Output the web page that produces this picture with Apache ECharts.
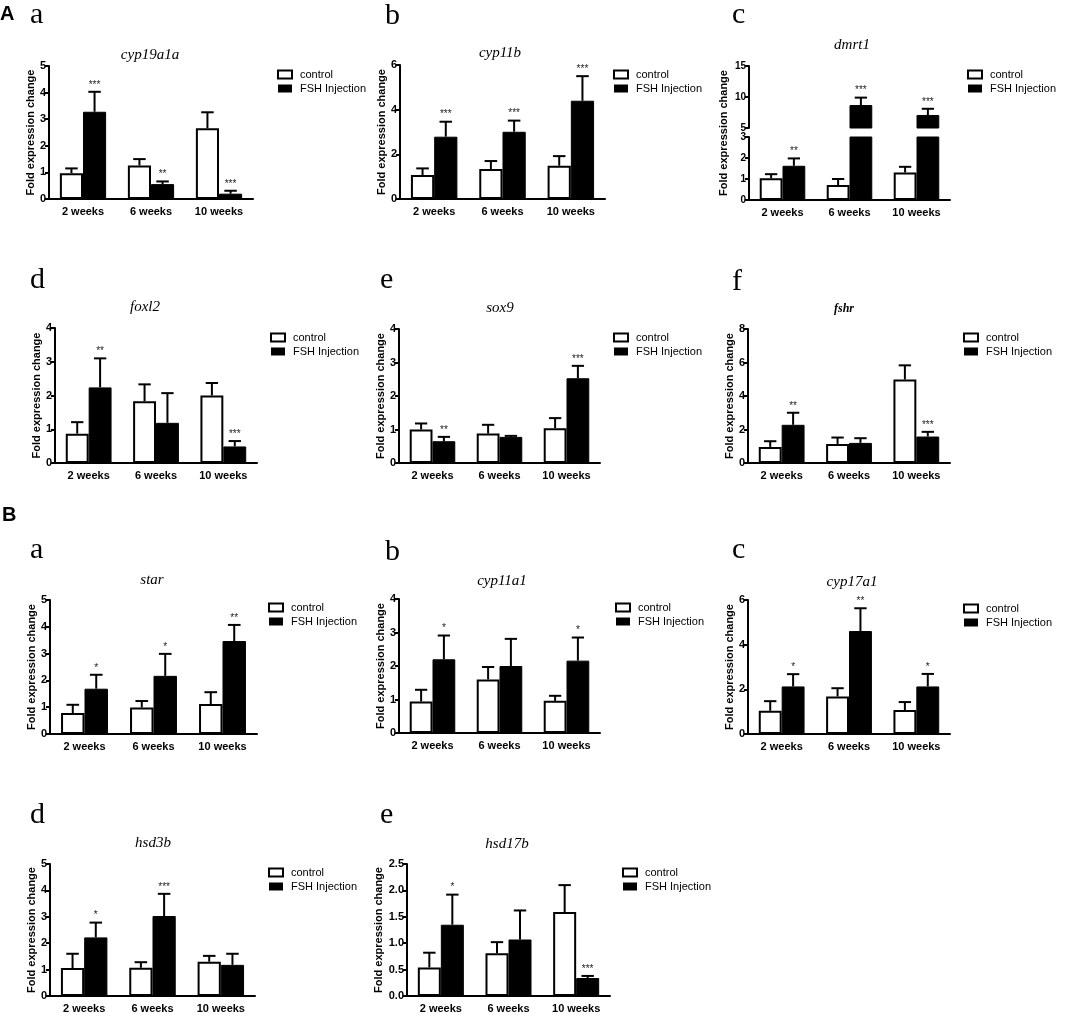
<!DOCTYPE html>
<html>
<head>
<meta charset="UTF-8">
<title>FSH injection qPCR</title>
<script src="https://cdn.jsdelivr.net/npm/echarts@6/dist/echarts.min.js"></script>
<style>
  html, body { margin: 0; padding: 0; background: #fff; }
  #main { width: 1080px; height: 1014px; }
</style>
</head>
<body>
<div id="main"></div>
<script type="text/javascript">
// categories
var weeks = ['2 weeks', '6 weeks', '10 weeks'];
var seriesNames = ['control', 'FSH Injection'];

// mean / error bar (upper SD) per gene
var cyp19a1a = { control: [0.97, 1.26, 2.66], controlSd: [0.18, 0.24, 0.60], fsh: [3.28, 0.56, 0.20], fshSd: [0.75, 0.10, 0.11], stars: ['***', '**', '***'] };
var cyp11b   = { control: [1.07, 1.34, 1.49], controlSd: [0.30, 0.36, 0.43], fsh: [2.79, 3.01, 4.40], fshSd: [0.67, 0.50, 1.10], stars: ['***', '***', '***'] };
var dmrt1    = { control: [1.04, 0.71, 1.31], controlSd: [0.19, 0.29, 0.27], fsh: [1.63, 8.70, 7.10], fshSd: [0.35, 1.20, 1.00], stars: ['**', '***', '***'] };
var foxl2    = { control: [0.87, 1.83, 2.00], controlSd: [0.34, 0.50, 0.37], fsh: [2.24, 1.19, 0.49], fshSd: [0.86, 0.88, 0.16], stars: ['**', '', '***'] };
var sox9     = { control: [1.00, 0.88, 1.04], controlSd: [0.18, 0.26, 0.30], fsh: [0.65, 0.78, 2.53], fshSd: [0.13, 0.03, 0.37], stars: ['**', '', '***'] };
var fshr     = { control: [0.96, 1.14, 4.99], controlSd: [0.34, 0.38, 0.84], fsh: [2.28, 1.20, 1.58], fshSd: [0.72, 0.28, 0.28], stars: ['**', '', '***'] };
var star     = { control: [0.78, 0.99, 1.12], controlSd: [0.31, 0.24, 0.44], fsh: [1.69, 2.17, 3.47], fshSd: [0.52, 0.82, 0.60], stars: ['*', '*', '**'] };
var cyp11a1  = { control: [0.94, 1.60, 0.96], controlSd: [0.35, 0.37, 0.15], fsh: [2.20, 2.00, 2.16], fshSd: [0.71, 0.81, 0.69], stars: ['*', '', '*'] };
var cyp17a1  = { control: [1.04, 1.68, 1.07], controlSd: [0.43, 0.37, 0.36], fsh: [2.13, 4.61, 2.13], fshSd: [0.55, 1.02, 0.56], stars: ['*', '**', '*'] };
var hsd3b    = { control: [1.06, 1.07, 1.30], controlSd: [0.54, 0.21, 0.22], fsh: [2.22, 3.03, 1.18], fshSd: [0.56, 0.84, 0.42], stars: ['*', '***', ''] };
var hsd17b   = { control: [0.54, 0.81, 1.59], controlSd: [0.28, 0.21, 0.51], fsh: [1.35, 1.07, 0.34], fshSd: [0.57, 0.55, 0.04], stars: ['*', '', '***'] };

// y axis ranges of the broken dmrt1 axis [min, max, interval]
var dmrt1Lower = [0, 3, 1];
var dmrt1Upper = [5, 15, 5];

var SANS = '"Liberation Sans", Arial, sans-serif';
var SERIF = '"Liberation Serif", "Times New Roman", serif';
var BAR_FRAC = 0.34;

// layout of each panel (px)
var panels = [
  { gene: 'cyp19a1a', d: cyp19a1a, letter: 'a', lx: 30, ly: 23, tx: 150, ty: 55, grid: [49, 66, 204, 133], max: 5, interval: 1, lg: [277, 69] },
  { gene: 'cyp11b', d: cyp11b, letter: 'b', lx: 385, ly: 24, tx: 500, ty: 53, grid: [400, 65, 205, 134], max: 6, interval: 2, lg: [613, 69] },
  { gene: 'dmrt1', d: dmrt1, letter: 'c', lx: 732, ly: 23, tx: 852, ty: 45, grid: [749, 66, 201, 134], broken: true, lg: [967, 69] },
  { gene: 'foxl2', d: foxl2, letter: 'd', lx: 30, ly: 288, tx: 145, ty: 307, grid: [55, 328, 202, 135], max: 4, interval: 1, lg: [270, 332] },
  { gene: 'sox9', d: sox9, letter: 'e', lx: 380, ly: 288, tx: 500, ty: 308, grid: [399, 329, 201, 134], max: 4, interval: 1, lg: [613, 332] },
  { gene: 'fshr', d: fshr, letter: 'f', lx: 732, ly: 290, tx: 844, ty: 307, grid: [748, 329, 202, 134], max: 8, interval: 2, lg: [963, 332], small: true },
  { gene: 'star', d: star, letter: 'a', lx: 30, ly: 558, tx: 152, ty: 580, grid: [50, 600, 207, 134], max: 5, interval: 1, lg: [268, 602] },
  { gene: 'cyp11a1', d: cyp11a1, letter: 'b', lx: 385, ly: 560, tx: 502, ty: 581, grid: [399, 599, 201, 134], max: 4, interval: 1, lg: [615, 602] },
  { gene: 'cyp17a1', d: cyp17a1, letter: 'c', lx: 732, ly: 558, tx: 852, ty: 582, grid: [748, 600, 202, 134], max: 6, interval: 2, lg: [963, 603] },
  { gene: 'hsd3b', d: hsd3b, letter: 'd', lx: 30, ly: 823, tx: 153, ty: 843, grid: [50, 864, 205, 134], max: 5, interval: 1, lg: [268, 867] },
  { gene: 'hsd17b', d: hsd17b, letter: 'e', lx: 380, ly: 823, tx: 507, ty: 844, grid: [407, 864, 203, 134], max: 2.5, interval: 0.5, lg: [622, 867], decimals: 1 }
];

var myChart = echarts.init(document.getElementById('main'));

var option = {
  animation: false,
  backgroundColor: '#fff',
  grid: [],
  xAxis: [],
  yAxis: [],
  legend: [],
  series: [],
  graphic: []
};

var axisLineStyle = { color: '#000', width: 2 };
var tickLabel = { color: '#000', fontWeight: 'bold', fontSize: 11, fontFamily: SANS };

function addGrid(left, top, width, height) {
  option.grid.push({ left: left, top: top, width: width, height: height });
  return option.grid.length - 1;
}

function addXAxis(gi, show) {
  option.xAxis.push({
    type: 'category',
    gridIndex: gi,
    data: weeks,
    show: show,
    axisLine: { lineStyle: axisLineStyle },
    axisTick: { show: false },
    axisLabel: Object.assign({ margin: 7, interval: 0 }, tickLabel)
  });
}

function addYAxis(gi, min, max, interval, decimals, name, labelSize) {
  option.yAxis.push({
    type: 'value',
    gridIndex: gi,
    min: min,
    max: max,
    interval: interval,
    name: name || '',
    nameLocation: 'middle',
    nameGap: 11,
    nameTextStyle: { color: '#000', fontWeight: 'bold', fontSize: 11, fontFamily: SANS },
    axisLine: { show: true, lineStyle: axisLineStyle },
    axisTick: { show: true, length: 4, lineStyle: axisLineStyle },
    axisLabel: Object.assign({}, tickLabel, {
      margin: 3,
      fontSize: labelSize || 11,
      formatter: function (v) { return decimals ? v.toFixed(decimals) : String(v); }
    }),
    splitLine: { show: false }
  });
}

function barSeries(gi, name, data) {
  var ctrl = name === 'control';
  return {
    type: 'bar',
    name: name,
    xAxisIndex: gi,
    yAxisIndex: gi,
    data: data,
    clip: true,
    barWidth: (BAR_FRAC * 100) + '%',
    barGap: '0%',
    itemStyle: ctrl ? { color: '#fff', borderColor: '#000', borderWidth: 2 } : { color: '#000', borderColor: '#000', borderWidth: 1 }
  };
}

// error bar (upwards) + significance stars
function errorSeries(gi, means, sds, stars, side, idxs) {
  var data = idxs.map(function (i) { return [i, means[i], sds[i]]; });
  return {
    type: 'custom',
    xAxisIndex: gi,
    yAxisIndex: gi,
    silent: true,
    z: 5,
    data: data,
    renderItem: function (params, api) {
      var i = api.value(0);
      var m = api.value(1);
      var band = api.size([1, 0])[0];
      var p0 = api.coord([i, m]);
      var p1 = api.coord([i, m + api.value(2)]);
      var x = p0[0] + side * band * BAR_FRAC / 2;
      var cap = band * BAR_FRAC * 0.27;
      var kids = [
        { type: 'line', shape: { x1: x, y1: p0[1], x2: x, y2: p1[1] }, style: { stroke: '#000', lineWidth: 2 } },
        { type: 'line', shape: { x1: x - cap, y1: p1[1], x2: x + cap, y2: p1[1] }, style: { stroke: '#000', lineWidth: 2 } }
      ];
      if (stars[i]) {
        kids.push({ type: 'text', x: x, y: p1[1] - 2, style: { text: stars[i], font: '10px ' + SANS, fill: '#222', textAlign: 'center', textVerticalAlign: 'bottom' } });
      }
      return { type: 'group', children: kids };
    }
  };
}

function addLegend(pos) {
  option.legend.push({
    left: pos[0],
    top: pos[1],
    orient: 'vertical',
    padding: 0,
    icon: 'rect',
    itemWidth: 14,
    itemHeight: 8,
    itemGap: 3,
    selectedMode: false,
    data: [
      { name: seriesNames[0], itemStyle: { color: '#fff', borderColor: '#000', borderWidth: 2 } },
      { name: seriesNames[1], itemStyle: { color: '#000', borderColor: '#000', borderWidth: 0 } }
    ],
    textStyle: { color: '#000', fontSize: 11, fontFamily: SANS, padding: [0, 0, 0, 3] }
  });
}

function addText(x, y, text, font, align) {
  option.graphic.push({
    type: 'text', x: x, y: y, silent: true,
    style: { text: text, font: font, fill: '#000', textAlign: align || 'left', textVerticalAlign: 'bottom' }
  });
}

panels.forEach(function (p) {
  var g = p.grid, d = p.d, gi;
  if (!p.broken) {
    gi = addGrid(g[0], g[1], g[2], g[3]);
    addXAxis(gi, true);
    addYAxis(gi, 0, p.max, p.interval, p.decimals, 'Fold expression change');
    option.series.push(barSeries(gi, seriesNames[0], d.control));
    option.series.push(barSeries(gi, seriesNames[1], d.fsh));
    option.series.push(errorSeries(gi, d.control, d.controlSd, [], -1, [0, 1, 2]));
    option.series.push(errorSeries(gi, d.fsh, d.fshSd, d.stars, 1, [0, 1, 2]));
  } else {
    // lower segment 0-3
    gi = addGrid(g[0], 137, g[2], g[1] + g[3] - 137);
    addXAxis(gi, true);
    addYAxis(gi, dmrt1Lower[0], dmrt1Lower[1], dmrt1Lower[2], 0, '', 10);
    option.series.push(barSeries(gi, seriesNames[0], d.control));
    option.series.push(barSeries(gi, seriesNames[1], d.fsh));
    option.series.push(errorSeries(gi, d.control, d.controlSd, [], -1, [0, 1, 2]));
    option.series.push(errorSeries(gi, d.fsh, d.fshSd, d.stars, 1, [0]));
    // upper segment 5-15
    var gu = addGrid(g[0], g[1], g[2], 62);
    addXAxis(gu, false);
    addYAxis(gu, dmrt1Upper[0], dmrt1Upper[1], dmrt1Upper[2], 0, '', 10);
    option.series.push(barSeries(gu, seriesNames[0], ['-', '-', '-']));
    option.series.push(barSeries(gu, seriesNames[1], ['-', d.fsh[1], d.fsh[2]]));
    option.series.push(errorSeries(gu, d.fsh, d.fshSd, d.stars, 1, [1, 2]));
    // shared axis title
    var gn = addGrid(g[0], g[1], g[2], g[3]);
    addXAxis(gn, false);
    option.yAxis.push({
      type: 'value', gridIndex: gn, min: 0, max: 1,
      name: 'Fold expression change', nameLocation: 'middle', nameGap: 20,
      nameTextStyle: { color: '#000', fontWeight: 'bold', fontSize: 11, fontFamily: SANS },
      axisLine: { show: false }, axisTick: { show: false }, axisLabel: { show: false }, splitLine: { show: false }
    });
  }
  addLegend(p.lg);
  addText(p.tx, p.ty + 8, p.gene, (p.small ? 'italic bold 12px ' : 'italic 15px ') + SERIF, 'center');
  addText(p.lx, p.ly + 7, p.letter, '30px ' + SERIF, 'left');
});

addText(0, 24, 'A', 'bold 20px ' + SANS, 'left');
addText(2, 525, 'B', 'bold 20px ' + SANS, 'left');

myChart.setOption(option);
</script>
</body>
</html>
